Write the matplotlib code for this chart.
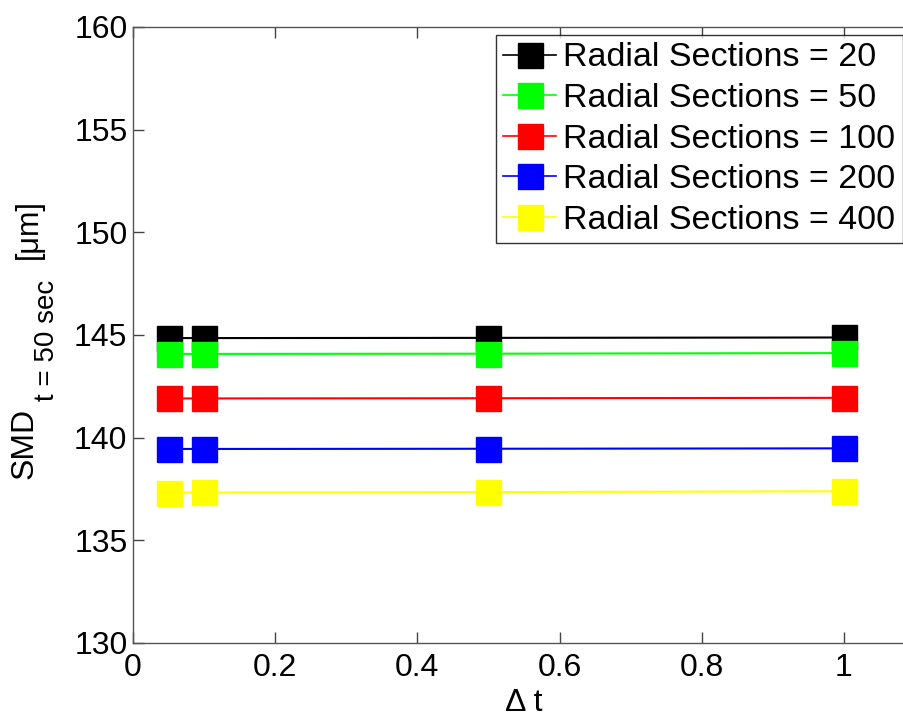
import numpy as np
import matplotlib
matplotlib.use('Agg')
import matplotlib.pyplot as plt

plt.rcParams['font.family'] = ['Liberation Sans', 'DejaVu Sans']

# ===================== DATA =====================
dt = [0.05, 0.1, 0.5, 1.0]
sections = [20, 50, 100, 200, 400]
colors = ['black', '#00ff00', 'red', 'blue', 'yellow']

smd_20 = [144.85, 144.85, 144.86, 144.88]
smd_50 = [144.08, 144.08, 144.09, 144.12]
smd_100 = [141.91, 141.91, 141.92, 141.94]
smd_200 = [139.45, 139.45, 139.46, 139.48]
smd_400 = [137.32, 137.33, 137.35, 137.39]
smd_all = [smd_20, smd_50, smd_100, smd_200, smd_400]

# ===================== PLOT =====================
W, H = 904, 717
fig = plt.figure(figsize=(W / 100, H / 100), dpi=100)
# axes runs a bit past the right edge of the figure (x up to 1.1)
ax = fig.add_axes([133 / W, 1 - 643 / H, 782 / W, 616 / H])

for n, c, vals in zip(sections, colors, smd_all):
    ax.plot(dt, vals, color=c, linewidth=1.5, marker='s', markersize=18,
            markerfacecolor=c, markeredgecolor=c, label=f'Radial Sections = {n}')

ax.set_xlim(0, 1.1)
ax.set_ylim(130, 160)
ax.set_xticks(np.arange(0, 1.01, 0.2))
ax.set_xticklabels(['0', '0.2', '0.4', '0.6', '0.8', '1'])
ax.set_yticks(np.arange(130, 161, 5))

ax.tick_params(direction='in', length=8, width=1, labelsize=23, top=True, right=True,
               color='#444444')
ax.tick_params(axis='x', pad=7)
ax.tick_params(axis='y', pad=4)
for s in ax.spines.values():
    s.set_color('#555555')
    s.set_linewidth(1)

ax.set_xlabel('Δ t', fontsize=23, va='top')
ax.xaxis.set_label_coords(0.5, -0.073)

# y label: SMD with a subscript and the unit, built from three pieces
fig.text(25 / W, 1 - 479 / H, 'SMD', rotation=90, ha='center', va='bottom', fontsize=23)
fig.text(47 / W, 1 - 401 / H, 't = 50 sec', rotation=90, ha='center', va='bottom',
         fontsize=20)
fig.text(29 / W, 1 - 199 / H, '[μm]', rotation=90, ha='center', va='top', fontsize=22)

leg = ax.legend(loc='upper left', bbox_to_anchor=(496 / W, 1 - 35 / H),
                bbox_transform=fig.transFigure, fontsize=24.5, frameon=True,
                fancybox=False, handlelength=1.55, handletextpad=0.2,
                labelspacing=0.28, borderpad=0.22, borderaxespad=0, markerscale=1)
leg.get_frame().set_edgecolor('black')
leg.get_frame().set_linewidth(1)
for h in leg.legend_handles:
    h.set_linewidth(1.2)

fig.savefig('out.png', dpi=100)
